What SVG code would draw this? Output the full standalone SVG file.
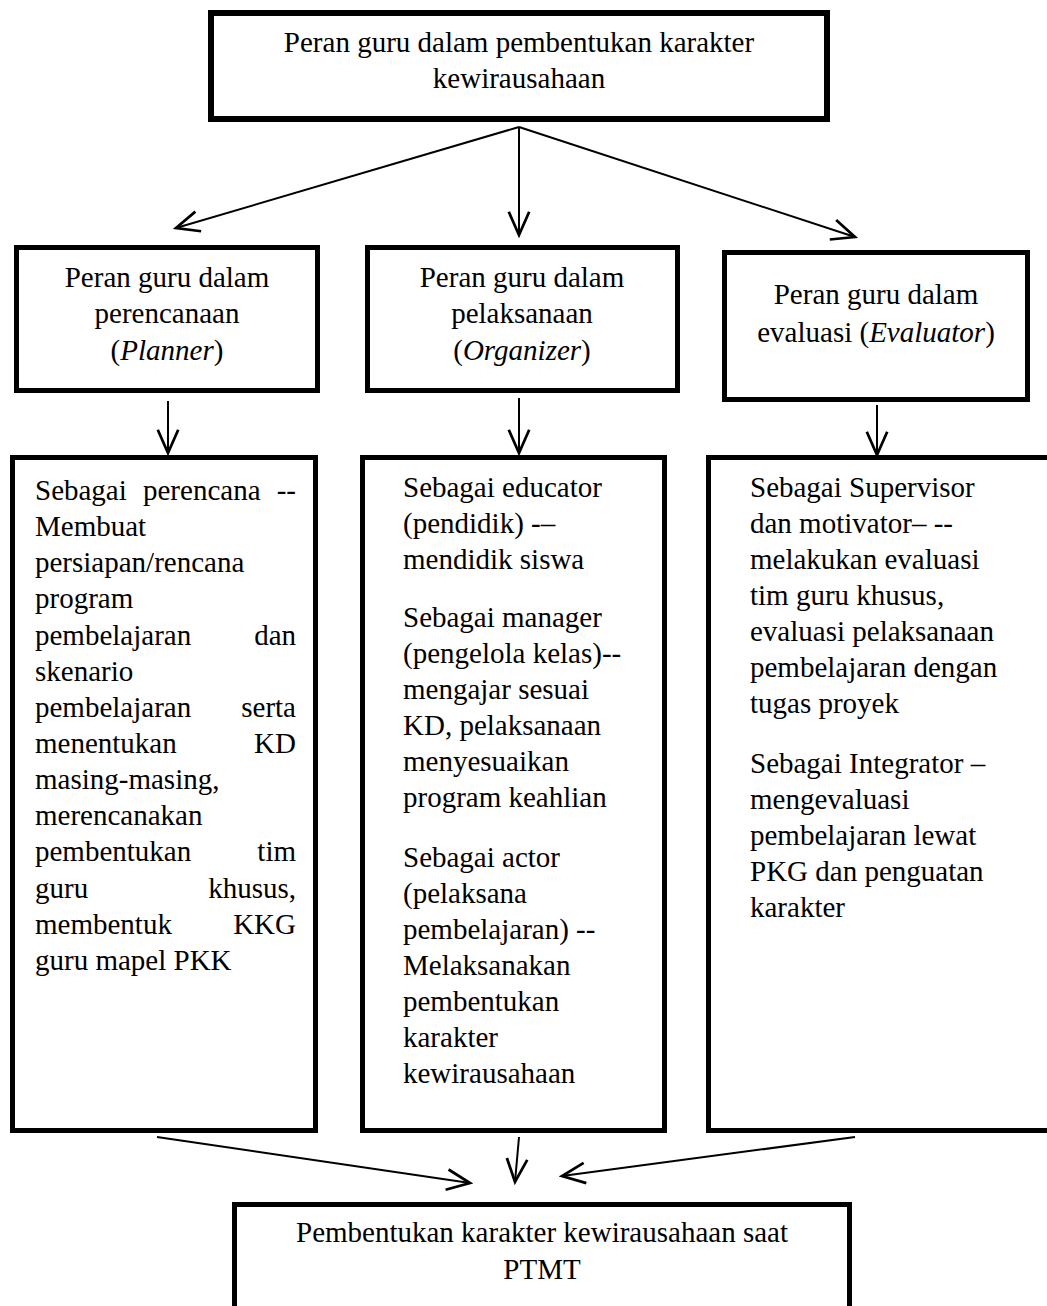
<svg xmlns="http://www.w3.org/2000/svg" width="1047" height="1306" viewBox="0 0 1047 1306">
<style>
.box{fill:#fff;stroke:#000;stroke-width:5}
.t{font-family:"Liberation Serif","Times New Roman",serif;font-size:29px;fill:#000}
.c{text-anchor:middle}
.r{text-anchor:end}
.i{font-style:italic}
.ln{fill:none;stroke:#000;stroke-width:2}
</style>
<defs>
<marker id="ah" markerUnits="userSpaceOnUse" markerWidth="30" markerHeight="30" viewBox="-20 -10 22 20" refX="0" refY="0" orient="auto">
<path d="M-17,-7.5 L0,0 L-17,7.5" fill="none" stroke="#000" stroke-width="2"/>
</marker>
</defs>
<rect width="1047" height="1306" fill="#fff"/>
<g id="connectors">
<line class="ln" x1="519" y1="127" x2="176" y2="228" marker-end="url(#ah)"/>
<line class="ln" x1="519" y1="127" x2="519" y2="235" marker-end="url(#ah)"/>
<line class="ln" x1="519" y1="127" x2="855" y2="237" marker-end="url(#ah)"/>
<line class="ln" x1="168" y1="401" x2="168" y2="453" marker-end="url(#ah)"/>
<line class="ln" x1="519" y1="398" x2="519" y2="453" marker-end="url(#ah)"/>
<line class="ln" x1="877" y1="405" x2="877" y2="455" marker-end="url(#ah)"/>
<line class="ln" x1="157" y1="1137" x2="470" y2="1183" marker-end="url(#ah)"/>
<line class="ln" x1="519" y1="1137" x2="515" y2="1182" marker-end="url(#ah)"/>
<line class="ln" x1="855" y1="1137" x2="562" y2="1176" marker-end="url(#ah)"/>
</g>
<g id="top">
<rect class="box" x="211" y="13" width="616" height="106" style="stroke-width:6"/>
<text class="t c" x="519" y="52">Peran guru dalam pembentukan karakter</text>
<text class="t c" x="519" y="88">kewirausahaan</text>
</g>
<g id="planner">
<rect class="box" x="16.5" y="247.5" width="301" height="143"/>
<text class="t c" x="167" y="287">Peran guru dalam</text>
<text class="t c" x="167" y="323">perencanaan</text>
<text class="t c" x="167" y="360">(<tspan class="i">Planner</tspan>)</text>
</g>
<g id="organizer">
<rect class="box" x="367.5" y="247.5" width="310" height="143"/>
<text class="t c" x="522" y="287">Peran guru dalam</text>
<text class="t c" x="522" y="323">pelaksanaan</text>
<text class="t c" x="522" y="360">(<tspan class="i">Organizer</tspan>)</text>
</g>
<g id="evaluator">
<rect class="box" x="724.5" y="252.5" width="303" height="147"/>
<text class="t c" x="876" y="304">Peran guru dalam</text>
<text class="t c" x="876" y="342">evaluasi (<tspan class="i">Evaluator</tspan>)</text>
</g>
<g id="planner-detail">
<rect class="box" x="12.5" y="457.5" width="303" height="673"/>
<text class="t" x="35" y="500">Sebagai</text>
<text class="t" x="143" y="500">perencana</text>
<text class="t r" x="296" y="500">--</text>
<text class="t" x="35" y="536">Membuat</text>
<text class="t" x="35" y="572">persiapan/rencana</text>
<text class="t" x="35" y="608">program</text>
<text class="t" x="35" y="645">pembelajaran</text>
<text class="t r" x="296" y="645">dan</text>
<text class="t" x="35" y="681">skenario</text>
<text class="t" x="35" y="717">pembelajaran</text>
<text class="t r" x="296" y="717">serta</text>
<text class="t" x="35" y="753">menentukan</text>
<text class="t r" x="296" y="753">KD</text>
<text class="t" x="35" y="789">masing-masing,</text>
<text class="t" x="35" y="825">merencanakan</text>
<text class="t" x="35" y="861">pembentukan</text>
<text class="t r" x="296" y="861">tim</text>
<text class="t" x="35" y="898">guru</text>
<text class="t r" x="296" y="898">khusus,</text>
<text class="t" x="35" y="934">membentuk</text>
<text class="t r" x="296" y="934">KKG</text>
<text class="t" x="35" y="970">guru mapel PKK</text>
</g>
<g id="organizer-detail">
<rect class="box" x="362.5" y="457.5" width="302" height="673"/>
<text class="t" x="403" y="497">Sebagai educator</text>
<text class="t" x="403" y="533">(pendidik) -–</text>
<text class="t" x="403" y="569">mendidik siswa</text>
<text class="t" x="403" y="627">Sebagai manager</text>
<text class="t" x="403" y="663">(pengelola kelas)--</text>
<text class="t" x="403" y="699">mengajar sesuai</text>
<text class="t" x="403" y="735">KD, pelaksanaan</text>
<text class="t" x="403" y="771">menyesuaikan</text>
<text class="t" x="403" y="807">program keahlian</text>
<text class="t" x="403" y="867">Sebagai actor</text>
<text class="t" x="403" y="903">(pelaksana</text>
<text class="t" x="403" y="939">pembelajaran) --</text>
<text class="t" x="403" y="975">Melaksanakan</text>
<text class="t" x="403" y="1011">pembentukan</text>
<text class="t" x="403" y="1047">karakter</text>
<text class="t" x="403" y="1083">kewirausahaan</text>
</g>
<g id="evaluator-detail">
<rect class="box" x="708.5" y="457.5" width="345" height="673"/>
<text class="t" x="750" y="497">Sebagai Supervisor</text>
<text class="t" x="750" y="533">dan motivator– --</text>
<text class="t" x="750" y="569">melakukan evaluasi</text>
<text class="t" x="750" y="605">tim guru khusus,</text>
<text class="t" x="750" y="641">evaluasi pelaksanaan</text>
<text class="t" x="750" y="677">pembelajaran dengan</text>
<text class="t" x="750" y="713">tugas proyek</text>
<text class="t" x="750" y="773">Sebagai Integrator –</text>
<text class="t" x="750" y="809">mengevaluasi</text>
<text class="t" x="750" y="845">pembelajaran lewat</text>
<text class="t" x="750" y="881">PKG dan penguatan</text>
<text class="t" x="750" y="917">karakter</text>
</g>
<g id="result">
<rect class="box" x="234.5" y="1204.5" width="615" height="130"/>
<text class="t c" x="542" y="1242">Pembentukan karakter kewirausahaan saat</text>
<text class="t c" x="542" y="1279">PTMT</text>
</g>
</svg>
